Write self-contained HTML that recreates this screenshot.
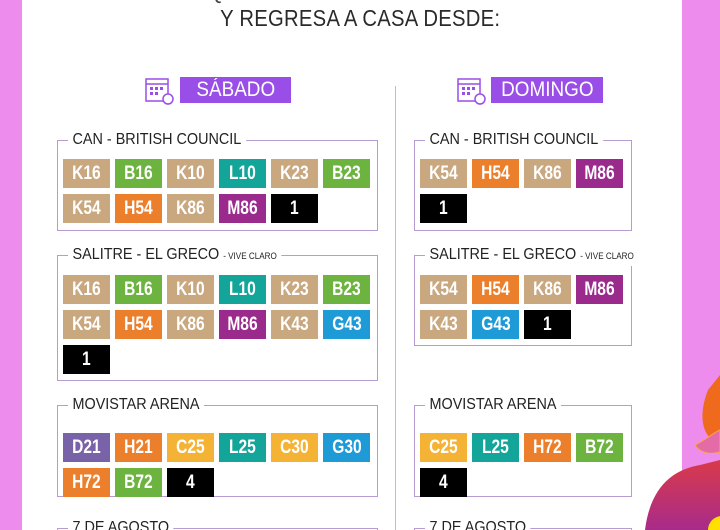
<!DOCTYPE html>
<html><head><meta charset="utf-8"><style>
*{margin:0;padding:0;box-sizing:border-box}
html,body{width:720px;height:530px;overflow:hidden}
body{background:#ee8cee;position:relative;font-family:"Liberation Sans",sans-serif}
#panel{position:absolute;left:22px;top:0;width:660px;height:530px;background:#fff}
.t{position:absolute;left:0;width:720px;text-align:center;color:#2a2a2a;font-size:23px;letter-spacing:0.3px}
.t span{display:inline-block;transform:scaleX(0.88)}
.box{position:absolute;border:1px solid #b79bd3}
.lbl{position:absolute;top:-11px;left:10px;background:#fff;padding:0 5px;font-size:16px;color:#222;white-space:nowrap;line-height:20px;transform:scaleX(0.9);transform-origin:left center}
.lbl small{font-size:9px}
.tiles{position:absolute;left:5px;top:18px;width:320px;display:flex;flex-wrap:wrap;gap:6px 5px}
.tl{width:47px;height:29px;color:#fff;font-weight:bold;font-size:19px;text-align:center;line-height:29px}
.tl span{display:inline-block;transform:scaleX(0.82)}
.k{background:#c9a77f}.g{background:#6db33f}.l{background:#14a59a}.o{background:#ec7f2c}.m{background:#9b2a8d}.b{background:#000}.y{background:#f5b335}.d{background:#7862a8}.u{background:#1e9ad6}
.hd{position:absolute;top:77px;height:26px;background:#9a4ee8;color:#fff;font-size:21px;text-align:center;line-height:26px}
.hd span{display:inline-block;transform:scaleX(0.9)}
.cal{position:absolute;top:75px;width:30px;height:30px}
</style></head><body>
<div id="panel"></div>
<div class="t" style="top:-22px;color:#444"><span>QUÉ BUS TOMAR AL FESTIVAL</span></div>
<div class="t" style="top:5px"><span>Y REGRESA A CASA DESDE:</span></div>
<div style="position:absolute;left:395px;top:86px;width:1px;height:444px;background:#c7b3dc"></div>

<svg class="cal" style="left:144px" viewBox="0 0 30 30"><rect x="2" y="4" width="22" height="22" fill="none" stroke="#9a4ee8" stroke-width="1.5"/><line x1="2" y1="9" x2="24" y2="9" stroke="#9a4ee8" stroke-width="1.5"/><g fill="#9a4ee8"><rect x="6" y="12" width="3" height="3"/><rect x="11" y="12" width="3" height="3"/><rect x="16" y="12" width="3" height="3"/><rect x="6" y="17" width="3" height="3"/><rect x="11" y="17" width="3" height="3"/></g><circle cx="24" cy="24" r="5" fill="#fff" stroke="#9a4ee8" stroke-width="1.5"/></svg>
<div class="hd" style="left:180px;width:111px"><span>SÁBADO</span></div>
<svg class="cal" style="left:456px" viewBox="0 0 30 30"><rect x="2" y="4" width="22" height="22" fill="none" stroke="#9a4ee8" stroke-width="1.5"/><line x1="2" y1="9" x2="24" y2="9" stroke="#9a4ee8" stroke-width="1.5"/><g fill="#9a4ee8"><rect x="6" y="12" width="3" height="3"/><rect x="11" y="12" width="3" height="3"/><rect x="16" y="12" width="3" height="3"/><rect x="6" y="17" width="3" height="3"/><rect x="11" y="17" width="3" height="3"/></g><circle cx="24" cy="24" r="5" fill="#fff" stroke="#9a4ee8" stroke-width="1.5"/></svg>
<div class="hd" style="left:491px;width:112px"><span>DOMINGO</span></div>

<div class="box" style="left:57px;top:140px;width:321px;height:91px"><div class="lbl">CAN - BRITISH COUNCIL</div><div class="tiles">
<div class="tl k"><span>K16</span></div><div class="tl g"><span>B16</span></div><div class="tl k"><span>K10</span></div><div class="tl l"><span>L10</span></div><div class="tl k"><span>K23</span></div><div class="tl g"><span>B23</span></div>
<div class="tl k"><span>K54</span></div><div class="tl o"><span>H54</span></div><div class="tl k"><span>K86</span></div><div class="tl m"><span>M86</span></div><div class="tl b"><span>1</span></div></div></div>

<div class="box" style="left:57px;top:255px;width:321px;height:126px"><div class="lbl">SALITRE - EL GRECO <small>- VIVE CLARO</small></div><div class="tiles" style="top:19px">
<div class="tl k"><span>K16</span></div><div class="tl g"><span>B16</span></div><div class="tl k"><span>K10</span></div><div class="tl l"><span>L10</span></div><div class="tl k"><span>K23</span></div><div class="tl g"><span>B23</span></div>
<div class="tl k"><span>K54</span></div><div class="tl o"><span>H54</span></div><div class="tl k"><span>K86</span></div><div class="tl m"><span>M86</span></div><div class="tl k"><span>K43</span></div><div class="tl u"><span>G43</span></div><div class="tl b"><span>1</span></div></div></div>

<div class="box" style="left:57px;top:405px;width:321px;height:92px"><div class="lbl">MOVISTAR ARENA</div><div class="tiles" style="top:27px">
<div class="tl d"><span>D21</span></div><div class="tl o"><span>H21</span></div><div class="tl y"><span>C25</span></div><div class="tl l"><span>L25</span></div><div class="tl y"><span>C30</span></div><div class="tl u"><span>G30</span></div>
<div class="tl o"><span>H72</span></div><div class="tl g"><span>B72</span></div><div class="tl b"><span>4</span></div></div></div>

<div class="box" style="left:57px;top:528px;width:321px;height:20px"><div class="lbl">7 DE AGOSTO</div></div>

<div class="box" style="left:414px;top:140px;width:218px;height:91px"><div class="lbl">CAN - BRITISH COUNCIL</div><div class="tiles" style="width:220px">
<div class="tl k"><span>K54</span></div><div class="tl o"><span>H54</span></div><div class="tl k"><span>K86</span></div><div class="tl m"><span>M86</span></div><div class="tl b"><span>1</span></div></div></div>

<div class="box" style="left:414px;top:255px;width:218px;height:91px"><div class="lbl">SALITRE - EL GRECO <small>- VIVE CLARO</small></div><div class="tiles" style="width:220px;top:19px">
<div class="tl k"><span>K54</span></div><div class="tl o"><span>H54</span></div><div class="tl k"><span>K86</span></div><div class="tl m"><span>M86</span></div>
<div class="tl k"><span>K43</span></div><div class="tl u"><span>G43</span></div><div class="tl b"><span>1</span></div></div></div>

<div class="box" style="left:414px;top:405px;width:218px;height:92px"><div class="lbl">MOVISTAR ARENA</div><div class="tiles" style="width:220px;top:27px">
<div class="tl y"><span>C25</span></div><div class="tl l"><span>L25</span></div><div class="tl o"><span>H72</span></div><div class="tl g"><span>B72</span></div><div class="tl b"><span>4</span></div></div></div>

<div class="box" style="left:414px;top:528px;width:218px;height:20px"><div class="lbl">7 DE AGOSTO</div></div>

<svg style="position:absolute;left:640px;top:360px" width="80" height="170" viewBox="0 0 80 170">
<defs><linearGradient id="gr" x1="0" y1="0" x2="0" y2="1"><stop offset="0" stop-color="#d93a4a"/><stop offset="1" stop-color="#a82b8a"/></linearGradient></defs>
<path d="M5 170 C10 130 30 110 60 105 L80 100 L80 170 Z" fill="url(#gr)"/>
<path d="M68 30 C60 50 60 70 72 80 L80 78 L80 15 Z" fill="#f06a1e"/>
<path d="M55 85 C65 80 75 72 80 70 L80 92 C70 95 60 93 55 85 Z" fill="#e46ba8" stroke="#f5a84a"/>
<circle cx="82" cy="170" r="14" fill="#ffe000"/>
</svg>
</body></html>
